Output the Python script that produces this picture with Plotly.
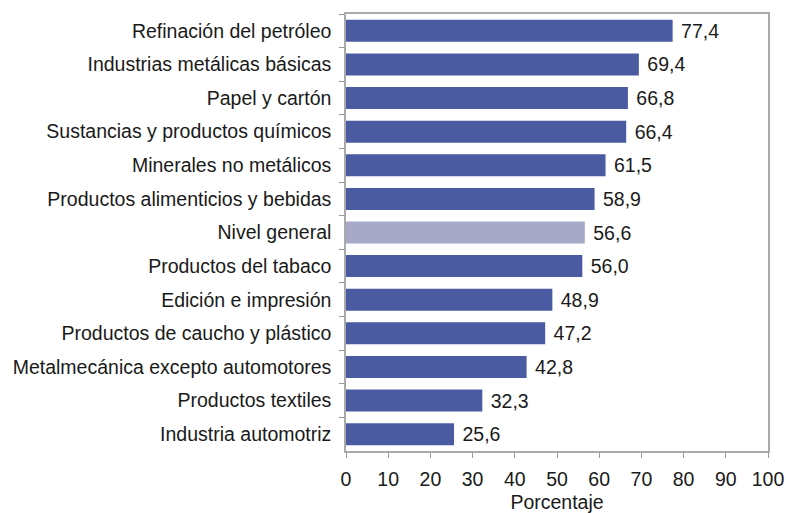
import plotly.graph_objects as go

categories = [
    "Refinación del petróleo",
    "Industrias metálicas básicas",
    "Papel y cartón",
    "Sustancias y productos químicos",
    "Minerales no metálicos",
    "Productos alimenticios y bebidas",
    "Nivel general",
    "Productos del tabaco",
    "Edición e impresión",
    "Productos de caucho y plástico",
    "Metalmecánica excepto automotores",
    "Productos textiles",
    "Industria automotriz",
]
values = [77.4, 69.4, 66.8, 66.4, 61.5, 58.9, 56.6, 56.0, 48.9, 47.2, 42.8, 32.3, 25.6]
x_ticks = list(range(0, 101, 10))

colors = ["#A8A9C8" if c == "Nivel general" else "#4B5BA2" for c in categories]

FS = 19.5

fig = go.Figure(go.Bar(
    y=categories,
    x=values,
    orientation="h",
    marker=dict(color=colors, line=dict(width=0)),
    texttemplate="\u00a0%{x:.1f}",
    textposition="outside",
    textfont=dict(size=FS, color="#1a1a1a"),
    cliponaxis=False,
    hoverinfo="skip",
))

fig.update_layout(
    width=786, height=513,
    margin=dict(l=346, r=18, t=14, b=62),
    plot_bgcolor="white", paper_bgcolor="white",
    separators=",.",
    font=dict(family="Liberation Sans, Arial, sans-serif", size=FS, color="#1a1a1a"),
    bargap=0.345,
    showlegend=False,
)
fig.update_xaxes(
    range=[0, 100], tickvals=x_ticks, ticks="outside", ticklen=5, tickcolor="#999999",
    showgrid=False, showline=True, linecolor="#aaaaaa", linewidth=1.5, mirror=True,
    title=dict(text="Porcentaje", font=dict(size=FS), standoff=11),
    zeroline=False, automargin=False, tickfont=dict(size=FS), ticklabelstandoff=5,
)
fig.update_yaxes(
    autorange="reversed", ticks="outside", ticklen=5, tickcolor="#999999", tickson="boundaries",
    showgrid=False, showline=True, linecolor="#aaaaaa", linewidth=1.5, mirror=True,
    ticklabelstandoff=9, automargin=False, tickfont=dict(size=FS),
)

fig.write_html(
    "out.html",
    config={"displayModeBar": False},
    post_script="document.body.style.margin='0';",
)
